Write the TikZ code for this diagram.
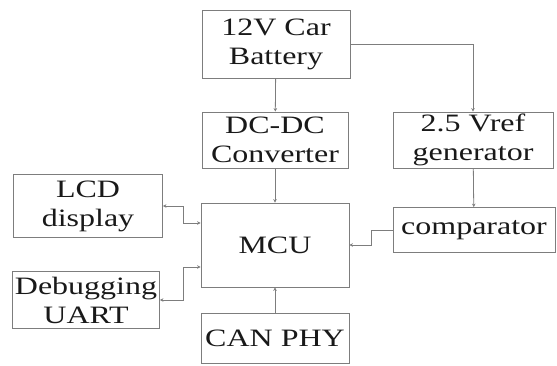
\documentclass[tikz,border=0pt]{standalone}
\usepackage{fontspec}
\setmainfont{Liberation Serif}[FakeStretch=1.28]
\usetikzlibrary{arrows.meta, positioning}
\definecolor{edge}{RGB}{125,125,125}
\definecolor{ink}{RGB}{25,25,25}

\begin{document}
\begin{tikzpicture}[
    x=1pt, y=-1pt,
    block/.style={rectangle, draw=edge, line width=0.8pt, inner sep=0pt, align=center, text=ink, font=\fontsize{25}{29}\selectfont},
    arr/.style={-{Stealth[length=3.5pt, width=3.5pt]}, edge, line width=0.8pt},
    biarr/.style={{Stealth[length=3.5pt, width=3.5pt]}-{Stealth[length=3.5pt, width=3.5pt]}, edge, line width=0.8pt},
]
\useasboundingbox (0,0) rectangle (557,366);

% supply side
\node[block, minimum width=148pt, minimum height=68pt] (bat) at (276,44) {12V Car\\Battery};
\node[block, minimum width=146pt, minimum height=56pt] (dcdc) at (275,140) {DC-DC\\Converter};
\node[block, minimum width=160pt, minimum height=56pt] (vref) at (473,140) {2.5 Vref\\generator};

% controller and peripherals
\node[block, minimum width=148pt, minimum height=84pt] (mcu) at (275,245) {MCU};
\node[block, minimum width=162pt, minimum height=45pt] (comp) at (474,230) {comparator};
\node[block, minimum width=149pt, minimum height=63pt] (lcd) at (88,206) {LCD\\display};
\node[block, minimum width=147pt, minimum height=57pt] (uart) at (86,300) {Debugging\\UART};
\node[block, minimum width=148pt, minimum height=50pt] (can) at (275,338) {CAN PHY};

\draw[arr] (bat) -- (dcdc);
\draw[arr] (bat.east) -| (vref.north);
\draw[arr] (dcdc) -- (mcu);
\draw[arr] (vref) -- (comp);
\draw[arr] (comp.west) -- ++(-21,0) |- (mcu.east);
\draw[biarr] (lcd.east) -- ++(20,0) |- ([yshift=22pt]mcu.west);
\draw[biarr] (uart.east) -- ++(23,0) |- ([yshift=-22pt]mcu.west);
\draw[arr] (can) -- (mcu);

\end{tikzpicture}
\end{document}
